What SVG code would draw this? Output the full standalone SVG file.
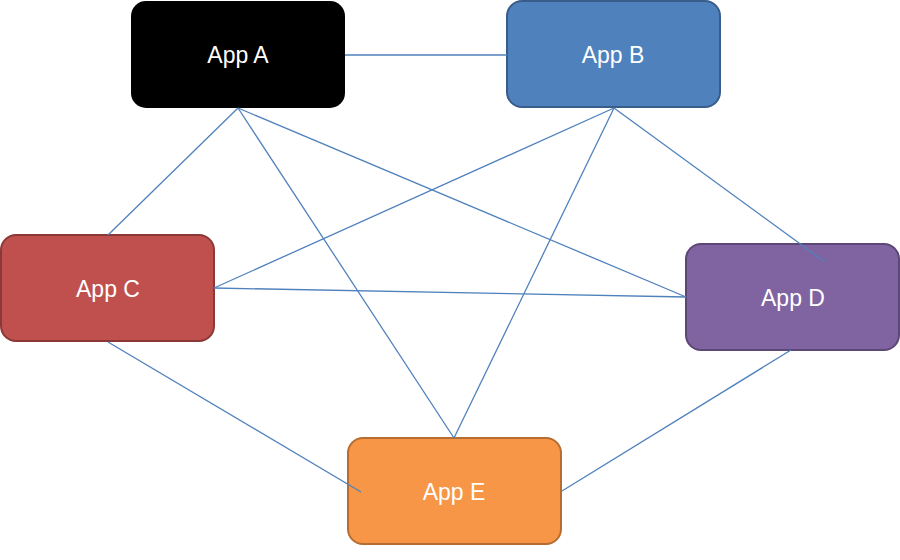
<svg xmlns="http://www.w3.org/2000/svg" width="900" height="560" viewBox="0 0 900 560">
<style>
.lbl{font-family:"Liberation Sans",Arial,sans-serif;font-size:23px;fill:#fff;text-anchor:middle}
.ln{stroke:#4F81BD;stroke-width:1.3;fill:none}
</style>
<rect width="900" height="560" fill="#fff"/>
<g id="appA">
<rect x="131" y="1" width="214" height="107" rx="15" fill="#000"/>
<text class="lbl" x="238" y="63">App A</text>
</g>
<g id="appB">
<rect x="507" y="1" width="213" height="106" rx="15" fill="#4F81BD" stroke="#385D8A" stroke-width="2"/>
<text class="lbl" x="613" y="63">App B</text>
</g>
<g id="appC">
<rect x="1" y="235" width="213" height="106" rx="15" fill="#C0504D" stroke="#8C3836" stroke-width="2"/>
<text class="lbl" x="108" y="297">App C</text>
</g>
<g id="appD">
<rect x="686" y="244" width="213" height="106" rx="15" fill="#8064A2" stroke="#5C4776" stroke-width="2"/>
<text class="lbl" x="793" y="306">App D</text>
</g>
<g id="appE">
<rect x="348" y="438" width="213" height="106" rx="15" fill="#F79646" stroke="#B66D31" stroke-width="2"/>
<text class="lbl" x="454" y="500">App E</text>
</g>
<g id="connectors">
<line class="ln" x1="345" y1="55" x2="507" y2="55"/>
<line class="ln" x1="238" y1="108" x2="108" y2="235"/>
<line class="ln" x1="238" y1="108" x2="454" y2="438"/>
<line class="ln" x1="238" y1="108" x2="686" y2="297"/>
<line class="ln" x1="614" y1="108" x2="214" y2="288"/>
<line class="ln" x1="614" y1="108" x2="454" y2="438"/>
<line class="ln" x1="614" y1="108" x2="825" y2="262"/>
<line class="ln" x1="214" y1="288" x2="686" y2="297"/>
<line class="ln" x1="108" y1="342" x2="361" y2="492"/>
<line class="ln" x1="791" y1="350" x2="562" y2="491"/>
</g>
</svg>
